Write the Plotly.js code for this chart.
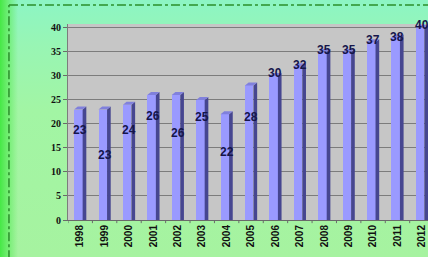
<!DOCTYPE html>
<html>
<head>
<meta charset="utf-8">
<script src="https://cdn.plot.ly/plotly-3.0.1.min.js"></script>
<style>
  html, body { margin: 0; padding: 0; }
  body {
    width: 428px; height: 257px; overflow: hidden;
    background:
      linear-gradient(to right, rgba(70,232,70,1) 0px, rgba(100,236,100,0.85) 7px, rgba(150,245,160,0) 18px),
      linear-gradient(to bottom, #8cf5c4 0px, #98f5b4 45px, #a2f5a4 110px, #a6f3a0 257px);
  }
  #chart { width: 428px; height: 257px; }
</style>
</head>
<body>
<div id="chart"></div>
<script>
const years = ["1998","1999","2000","2001","2002","2003","2004","2005","2006","2007","2008","2009","2010","2011","2012"];
const values = [23, 23, 24, 26, 26, 25, 22, 28, 30, 32, 35, 35, 37, 38, 40];
const labelY = [18.75, 13.5, 18.75, 21.7, 18.1, 21.5, 14.2, 21.5, 30.6, 32.3, 35.4, 35.4, 37.5, 38.1, 40.6];
const yTicks = [0, 5, 10, 15, 20, 25, 30, 35, 40];

const idx = years.map((_, i) => i);
const FRONT_L = -0.25, FRONT_R = 0.1, DEPTH_X = 0.15, DEPTH_Y = 0.62;

const front = {
  type: 'bar', x: idx, y: values,
  width: FRONT_R - FRONT_L, offset: FRONT_L,
  marker: { color: '#9a9aff', line: { width: 0 } },
  hoverinfo: 'skip', showlegend: false
};

const shapes = [];
idx.forEach((i) => {
  const v = values[i];
  shapes.push({ type: 'path', xref: 'x', yref: 'y', layer: 'above',
    path: `M ${i+FRONT_R} 0 L ${i+FRONT_R} ${v} L ${i+FRONT_R+DEPTH_X} ${v+DEPTH_Y} L ${i+FRONT_R+DEPTH_X} 0 Z`,
    fillcolor: '#464690', line: { width: 0 } });
  shapes.push({ type: 'path', xref: 'x', yref: 'y', layer: 'above',
    path: `M ${i+FRONT_L} ${v} L ${i+FRONT_R} ${v} L ${i+FRONT_R+DEPTH_X} ${v+DEPTH_Y} L ${i+FRONT_L+DEPTH_X} ${v+DEPTH_Y} Z`,
    fillcolor: '#8080dc', line: { width: 0 } });
  shapes.push({ type: 'line', xref: 'x', yref: 'paper', layer: 'above',
    x0: i - 0.5, x1: i - 0.5, y0: 0, y1: -0.016, line: { color: '#6a6a6a', width: 1 } });
});
shapes.push({ type: 'line', xref: 'paper', yref: 'paper', x0: -0.164, x1: -0.164, y0: -0.2, y1: 1.097,
  line: { color: '#2b8f2b', width: 1.5, dash: 'dashdot' } });
shapes.push({ type: 'line', xref: 'paper', yref: 'paper', x0: -0.164, x1: 1.01, y0: 1.097, y1: 1.097,
  line: { color: '#2b8f2b', width: 1.5, dash: 'dashdot' } });

const valueLabels = idx.map((i) => ({
  x: i, y: labelY[i], xref: 'x', yref: 'y',
  text: '<b>' + values[i] + '</b>', showarrow: false,
  font: { family: 'Liberation Sans, Arial, sans-serif', size: 12, color: '#15154a' },
  xanchor: 'center', yanchor: 'middle'
}));

const layout = {
  width: 428, height: 257,
  margin: { l: 68, r: 0, t: 24, b: 37 },
  paper_bgcolor: 'rgba(0,0,0,0)',
  plot_bgcolor: '#c6c6c6',
  showlegend: false, bargap: 0,
  xaxis: {
    range: [-0.5, 14.25],
    tickmode: 'array', tickvals: idx, ticktext: years.map(y => '<b>' + y + '</b>'),
    tickangle: -90, ticks: '',
    tickfont: { family: 'Liberation Sans, Arial, sans-serif', size: 10, color: '#111' },
    showgrid: false, zeroline: false,
    showline: true, linecolor: '#6a6a6a', linewidth: 1, fixedrange: true
  },
  yaxis: {
    range: [0, 40.8],
    tickmode: 'array', tickvals: yTicks, ticktext: yTicks.map(t => '<b>' + t + '</b>'),
    ticks: 'outside', ticklen: 4, tickcolor: '#6a6a6a',
    tickfont: { family: 'Liberation Serif, Times New Roman, serif', size: 10, color: '#111' },
    showgrid: true, gridcolor: '#7c7c7c', gridwidth: 1,
    zeroline: false, showline: true, linecolor: '#7c7c7c', linewidth: 1, fixedrange: true
  },
  shapes: shapes,
  annotations: valueLabels
};

Plotly.newPlot('chart', [front], layout, { displayModeBar: false, staticPlot: true });
</script>
</body>
</html>
